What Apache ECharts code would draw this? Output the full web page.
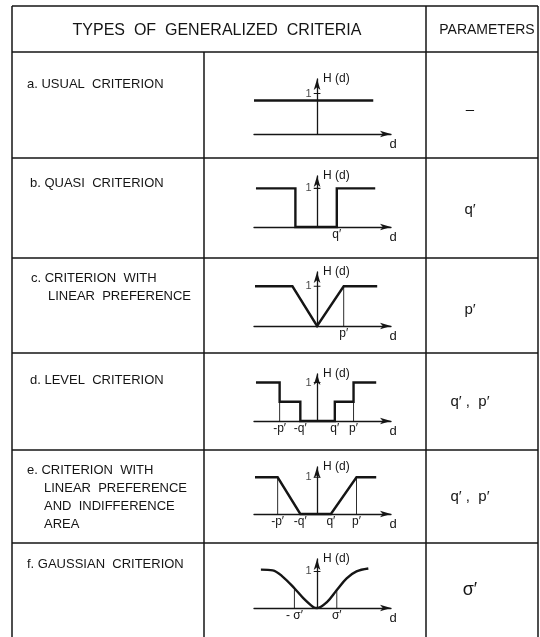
<!DOCTYPE html>
<html>
<head>
<meta charset="utf-8">
<script src="https://cdn.jsdelivr.net/npm/echarts@6/dist/echarts.min.js"></script>
<style>
  html, body { margin: 0; padding: 0; background: #fff; }
  #main { width: 540px; height: 637px; }
</style>
</head>
<body>
<div id="main"></div>
<script>
// d values are in one common unit, H(d) values between 0 and 1
var usualD = [-3.2, 2.85];
var usualH = [0.83, 0.83];

var quasiD = [-3.1, -1.1, -1.1, 1.0, 1.0, 2.95];
var quasiH = [1, 1, 0, 0, 1, 1];

var linearD = [-3.15, -1.25, 0, 1.35, 3.05];
var linearH = [1, 1, 0, 1, 1];

var levelD = [-3.1, -1.9, -1.9, -0.85, -0.85, 0.9, 0.9, 1.85, 1.85, 3.0];
var levelH = [1, 1, 0.5, 0.5, 0, 0, 0.5, 0.5, 1, 1];

var indiffD = [-3.15, -2.0, -0.85, 0.7, 2.0, 3.0];
var indiffH = [1, 1, 0, 0, 1, 1];

var gaussD = [-2.85, -2.25, -1.75, -1.15, -0.7, -0.2, 0, 0.5, 1.0, 1.5, 2.0, 2.6];
var gaussH = [1.05, 1.03, 0.86, 0.54, 0.27, 0.03, 0, 0.16, 0.49, 0.81, 1.0, 1.08];

// thin guide lines: position on d and height
var guideD = [[], [], [1.35], [-1.9, 1.85], [-2.0, 2.0], [-1.15, 1.0]];
var guideH = [[], [], [1], [0.5, 0.5], [1, 1], [0.54, 0.49]];

// tick labels on the d axis
var tickD = [[], [1.0], [1.35], [-1.9, -0.85, 0.9, 1.85], [-2.0, -0.85, 0.7, 2.0], [-1.15, 1.0]];
var tickText = [[], ["q\u2032"], ["p\u2032"],
  ["-p\u2032", "-q\u2032", "q\u2032", "p\u2032"],
  ["-p\u2032", "-q\u2032", "q\u2032", "p\u2032"],
  ["- \u03c3\u2032", "\u03c3\u2032"]];

var rowLabels = [
  ["a. USUAL  CRITERION"],
  ["b. QUASI  CRITERION"],
  ["c. CRITERION  WITH", "LINEAR  PREFERENCE"],
  ["d. LEVEL  CRITERION"],
  ["e. CRITERION  WITH", "LINEAR  PREFERENCE", "AND  INDIFFERENCE", "AREA"],
  ["f. GAUSSIAN  CRITERION"]
];
var paramText = ["\u2013", "q\u2032", "p\u2032", "q\u2032 ,  p\u2032", "q\u2032 ,  p\u2032", "\u03c3\u2032"];

var curvesD = [usualD, quasiD, linearD, levelD, indiffD, gaussD];
var curvesH = [usualH, quasiH, linearH, levelH, indiffH, gaussH];

// layout of each small plot: y of the d axis, plot height, top of H axis
var plots = [
  { axisY: 134, height: 55, yMax: 1.36 },
  { axisY: 227, height: 51, yMax: 1.32 },
  { axisY: 326, height: 54, yMax: 1.36 },
  { axisY: 421, height: 47, yMax: 1.22 },
  { axisY: 514, height: 47, yMax: 1.28 },
  { axisY: 608, height: 49, yMax: 1.34 }
];
var rowTextPos = [[27, 84], [30, 183], [31, 278], [30, 380], [27, 470], [27, 564]];
var paramY = [110, 210, 310, 402, 497, 590];
var rowLines = [52, 158, 258, 353, 450, 543];

var ink = "#151515";
var font = '"Liberation Sans", Arial, sans-serif';

var grids = [], xAxes = [], yAxes = [], series = [];

plots.forEach(function (p, i) {
  grids.push({ left: 254, width: 137, top: p.axisY - p.height, height: p.height });
  xAxes.push({
    type: "value", gridIndex: i, min: -3.2, max: 3.75,
    name: "d", nameLocation: "end", nameGap: 2,
    nameTextStyle: { color: ink, fontSize: 13, fontFamily: font, align: "center", verticalAlign: "top", padding: [4, 0, 0, 0] },
    axisLine: { onZero: false, symbol: ["none", "arrow"], symbolSize: [5, 11], lineStyle: { color: ink, width: 1.3 } },
    axisTick: { show: false },
    splitLine: { show: false },
    axisLabel: {
      show: tickD[i].length > 0,
      customValues: tickD[i],
      margin: 2,
      color: ink, fontSize: 12, fontFamily: font,
      formatter: function (v) {
        var k = tickD[i].indexOf(v);
        return k >= 0 ? tickText[i][k] : "";
      }
    }
  });
  yAxes.push({
    type: "value", gridIndex: i, min: 0, max: p.yMax,
    name: "H (d)", nameLocation: "end", nameGap: 0,
    nameTextStyle: { color: ink, fontSize: 12, fontFamily: font, align: "left", verticalAlign: "middle", padding: [0, 0, 0, 6] },
    axisLine: { onZero: true, symbol: ["none", "arrow"], symbolSize: [5, 11], lineStyle: { color: ink, width: 1.3 } },
    axisTick: { show: false },
    splitLine: { show: false },
    axisLabel: { show: false }
  });

  // the function itself
  series.push({
    type: "line", xAxisIndex: i, yAxisIndex: i,
    data: curvesD[i].map(function (d, k) { return [d, curvesH[i][k]]; }),
    symbol: "none", silent: true, clip: false,
    smooth: i === 5 ? 0.35 : false,
    lineStyle: { color: ink, width: 2.4, join: "miter" }
  });
  // thin guides up from the d axis
  guideD[i].forEach(function (d, k) {
    series.push({
      type: "line", xAxisIndex: i, yAxisIndex: i,
      data: [[d, 0], [d, guideH[i][k]]],
      symbol: "none", silent: true,
      lineStyle: { color: ink, width: 0.9 }
    });
  });
  // small cross tick at H = 1 with its label
  series.push({
    type: "line", xAxisIndex: i, yAxisIndex: i,
    data: [[-0.17, 1], [0.17, 1]],
    symbol: "none", silent: true,
    lineStyle: { color: ink, width: 1.1 }
  });
  series.push({
    type: "scatter", xAxisIndex: i, yAxisIndex: i,
    data: [[-0.17, 1]],
    symbolSize: 2, silent: true,
    itemStyle: { color: "rgba(0,0,0,0)" },
    labelLayout: { hideOverlap: false },
    label: { show: true, position: "left", distance: 1, formatter: "1", color: ink, fontSize: 11, fontFamily: font }
  });
});

// table frame and text
var graphic = [];
function hline(y, x1, x2) {
  graphic.push({ type: "line", shape: { x1: x1, y1: y, x2: x2, y2: y }, style: { stroke: ink, lineWidth: 1.5 } });
}
function vline(x, y1, y2) {
  graphic.push({ type: "line", shape: { x1: x, y1: y1, x2: x, y2: y2 }, style: { stroke: ink, lineWidth: 1.5 } });
}
hline(6, 12, 538);
rowLines.forEach(function (y) { hline(y, 12, 538); });
vline(12, 6, 637);
vline(204, 52, 637);
vline(426, 6, 637);
vline(538, 6, 637);

graphic.push({ type: "text", style: { text: "TYPES  OF  GENERALIZED  CRITERIA", x: 217, y: 31, fill: ink, font: "16px " + font, align: "center", verticalAlign: "middle" } });
graphic.push({ type: "text", style: { text: "PARAMETERS", x: 487, y: 30, fill: ink, font: "14px " + font, align: "center", verticalAlign: "middle" } });

rowLabels.forEach(function (lines, i) {
  lines.forEach(function (t, k) {
    graphic.push({
      type: "text",
      style: { text: t, x: rowTextPos[i][0] + (k > 0 ? 17 : 0), y: rowTextPos[i][1] + k * 18, fill: ink, font: "13px " + font, align: "left", verticalAlign: "middle" }
    });
  });
});
paramText.forEach(function (t, i) {
  graphic.push({
    type: "text",
    style: { text: t, x: 470, y: paramY[i], fill: ink, font: (i === 5 ? "18px " : "15px ") + font, align: "center", verticalAlign: "middle" }
  });
});

var chart = echarts.init(document.getElementById("main"));
chart.setOption({
  animation: false,
  backgroundColor: "#fff",
  grid: grids,
  xAxis: xAxes,
  yAxis: yAxes,
  series: series,
  graphic: graphic
});
</script>
</body>
</html>
